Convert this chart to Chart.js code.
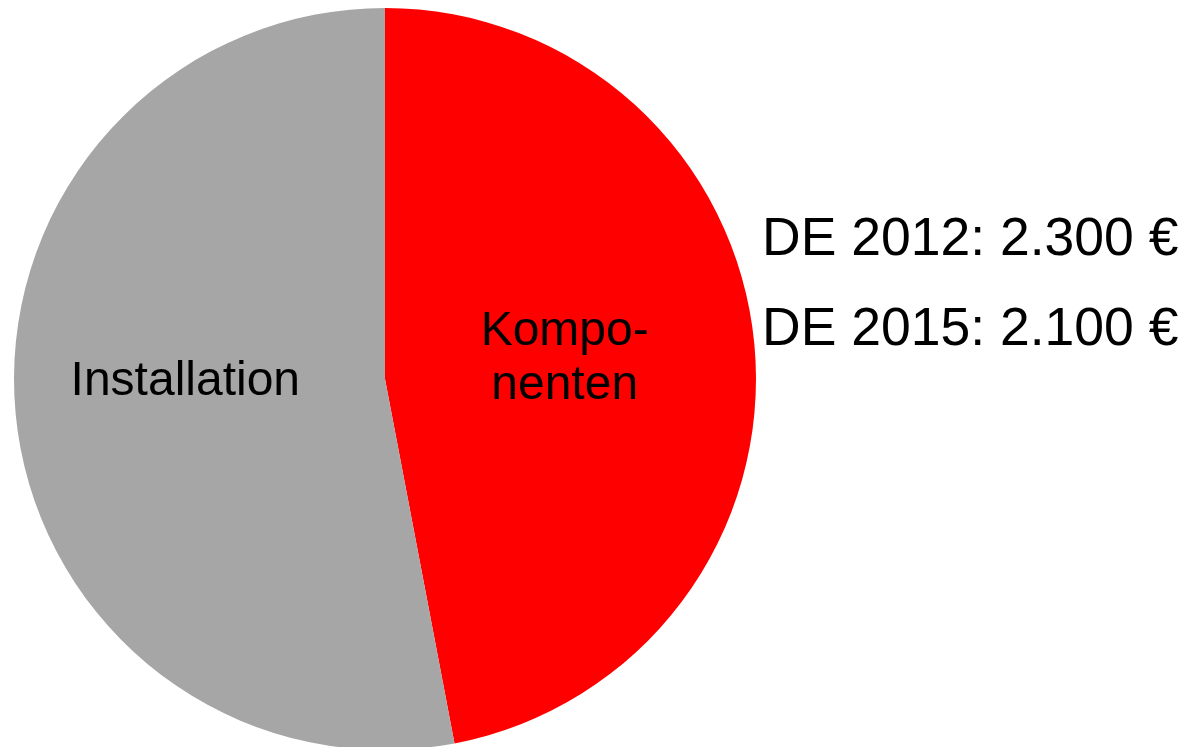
<!DOCTYPE html>
<html>
<head>
<meta charset="utf-8">
<script src="https://cdn.jsdelivr.net/npm/chart.js@4"></script>
<style>
  html, body { margin: 0; padding: 0; background: #fff; overflow: hidden; }
  #wrap { position: relative; width: 1193px; height: 750px; }
</style>
</head>
<body>
<div id="wrap"><canvas id="costChart"></canvas></div>
<script>
// Cost split of a PV system (share in %)
const labels = ["Kompo-\nnenten", "Installation"];
const shares = [47, 53];
const colors = ["#FF0000", "#A6A6A6"];
const sideNotes = ["DE 2012: 2.300 €", "DE 2015: 2.100 €"];

// label nudges relative to the slice centre (px)
const labelNudge = [[-5, -3], [-15, -15]];

const fontFamily = "Arial, 'Liberation Sans', sans-serif";

const sliceLabels = {
  id: "sliceLabels",
  afterDatasetsDraw(chart) {
    const ctx = chart.ctx;
    const meta = chart.getDatasetMeta(0);
    ctx.save();
    ctx.fillStyle = "#000";
    ctx.textAlign = "center";
    ctx.textBaseline = "middle";
    ctx.font = "48px " + fontFamily;
    meta.data.forEach((arc, i) => {
      const pos = arc.tooltipPosition();
      const lines = chart.data.labels[i].split("\n");
      const lh = 54;
      const x = pos.x + labelNudge[i][0];
      const y0 = pos.y + labelNudge[i][1] - (lines.length - 1) * lh / 2;
      lines.forEach((line, j) => ctx.fillText(line, x, y0 + j * lh));
    });

    // notes on the right
    ctx.textAlign = "left";
    ctx.textBaseline = "alphabetic";
    ctx.font = "53.5px " + fontFamily;
    sideNotes.forEach((t, i) => ctx.fillText(t, 762, 255 + i * 90));
    ctx.restore();
  }
};

new Chart(document.getElementById("costChart"), {
  type: "pie",
  data: {
    labels,
    datasets: [{
      data: shares,
      backgroundColor: colors,
      borderWidth: 0
    }]
  },
  options: {
    responsive: true,
    maintainAspectRatio: false,
    animation: false,
    layout: { padding: { left: 14, top: 8, right: 437, bottom: 0 } },
    plugins: {
      legend: { display: false },
      tooltip: { enabled: false },
      title: { display: false }
    }
  },
  plugins: [sliceLabels]
});
</script>
</body>
</html>
